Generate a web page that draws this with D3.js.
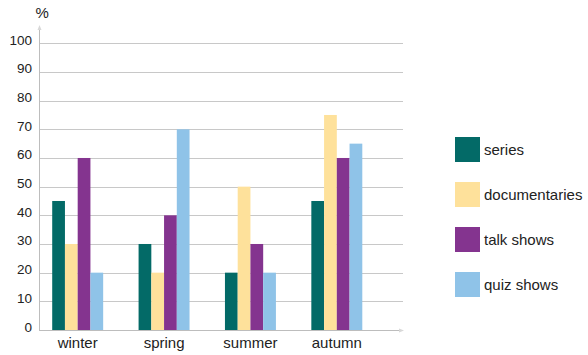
<!DOCTYPE html>
<html>
<head>
<meta charset="utf-8">
<script src="https://cdn.jsdelivr.net/npm/d3@7/dist/d3.min.js"></script>
<style>
  html, body { margin: 0; padding: 0; background: #fff; }
  svg { display: block; font-family: "Liberation Sans", Arial, sans-serif; }
</style>
</head>
<body>
<svg id="chart" width="588" height="355"></svg>
<script>
const seasons = ["winter", "spring", "summer", "autumn"];
const seriesNames = ["series", "documentaries", "talk shows", "quiz shows"];
const seriesVals = [45, 30, 20, 45];
const documentaryVals = [30, 20, 50, 75];
const talkShowVals = [60, 40, 30, 60];
const quizShowVals = [20, 70, 20, 65];
const yTicks = [0, 10, 20, 30, 40, 50, 60, 70, 80, 90, 100];
const colors = ["#036a67", "#fee19b", "#84348f", "#8fc3e8"];

const allVals = [seriesVals, documentaryVals, talkShowVals, quizShowVals];

const svg = d3.select("#chart");
const y = d3.scaleLinear().domain([0, 100]).range([330, 43.3]);
const x0 = d3.scaleBand().domain(seasons).range([34.5, 380]).paddingInner(0.41).paddingOuter(0.205);
const x1 = d3.scaleBand().domain(seriesNames).range([0, x0.bandwidth()]);

const axisLeft = 39, gridRight = 403;

// gridlines
svg.append("g").selectAll("line").data(yTicks.filter(d => d > 0)).join("line")
  .attr("x1", axisLeft).attr("x2", gridRight)
  .attr("y1", d => Math.round(y(d)) + 0.5).attr("y2", d => Math.round(y(d)) + 0.5)
  .attr("stroke", "#c8c8c8").attr("stroke-width", 1);

// y labels
svg.append("g").selectAll("text").data(yTicks).join("text")
  .attr("x", 32).attr("y", d => y(d) + 1.5)
  .attr("text-anchor", "end").attr("font-size", 13.5).attr("fill", "#222")
  .text(d => d);

svg.append("text").attr("x", 35.5).attr("y", 18).attr("font-size", 15).attr("fill", "#222").text("%");

// bars
const groups = svg.append("g").selectAll("g").data(seasons).join("g")
  .attr("transform", s => `translate(${x0(s)},0)`);
groups.selectAll("rect")
  .data((s, i) => seriesNames.map((n, j) => ({ name: n, value: allVals[j][i], color: colors[j] })))
  .join("rect")
  .attr("x", d => x1(d.name)).attr("width", x1.bandwidth())
  .attr("y", d => y(d.value)).attr("height", d => y(0) - y(d.value))
  .attr("fill", d => d.color);

// axes
svg.append("line").attr("x1", axisLeft + 0.5).attr("x2", axisLeft + 0.5).attr("y1", 28).attr("y2", 331)
  .attr("stroke", "#bdbdbd");
svg.append("path").attr("d", `M${axisLeft + 0.5},25 L${axisLeft - 1.5},30 L${axisLeft + 2.5},30 Z`).attr("fill", "#d8d8d8");
svg.append("line").attr("x1", axisLeft).attr("x2", 400).attr("y1", 330.5).attr("y2", 330.5)
  .attr("stroke", "#bdbdbd");
svg.append("path").attr("d", `M404,330.5 L399,328.5 L399,332.5 Z`).attr("fill", "#d8d8d8");

// x labels
svg.append("g").selectAll("text").data(seasons).join("text")
  .attr("x", s => x0(s) + x0.bandwidth() / 2).attr("y", 348)
  .attr("text-anchor", "middle").attr("font-size", 15).attr("fill", "#222")
  .text(s => s);

// legend
const leg = svg.append("g").selectAll("g").data(seriesNames).join("g")
  .attr("transform", (d, i) => `translate(455,${137 + i * 45})`);
leg.append("rect").attr("width", 25).attr("height", 25).attr("fill", (d, i) => colors[i]);
leg.append("text").attr("x", 29).attr("y", 17.5).attr("font-size", 15).attr("fill", "#222").text(d => d);
</script>
</body>
</html>
